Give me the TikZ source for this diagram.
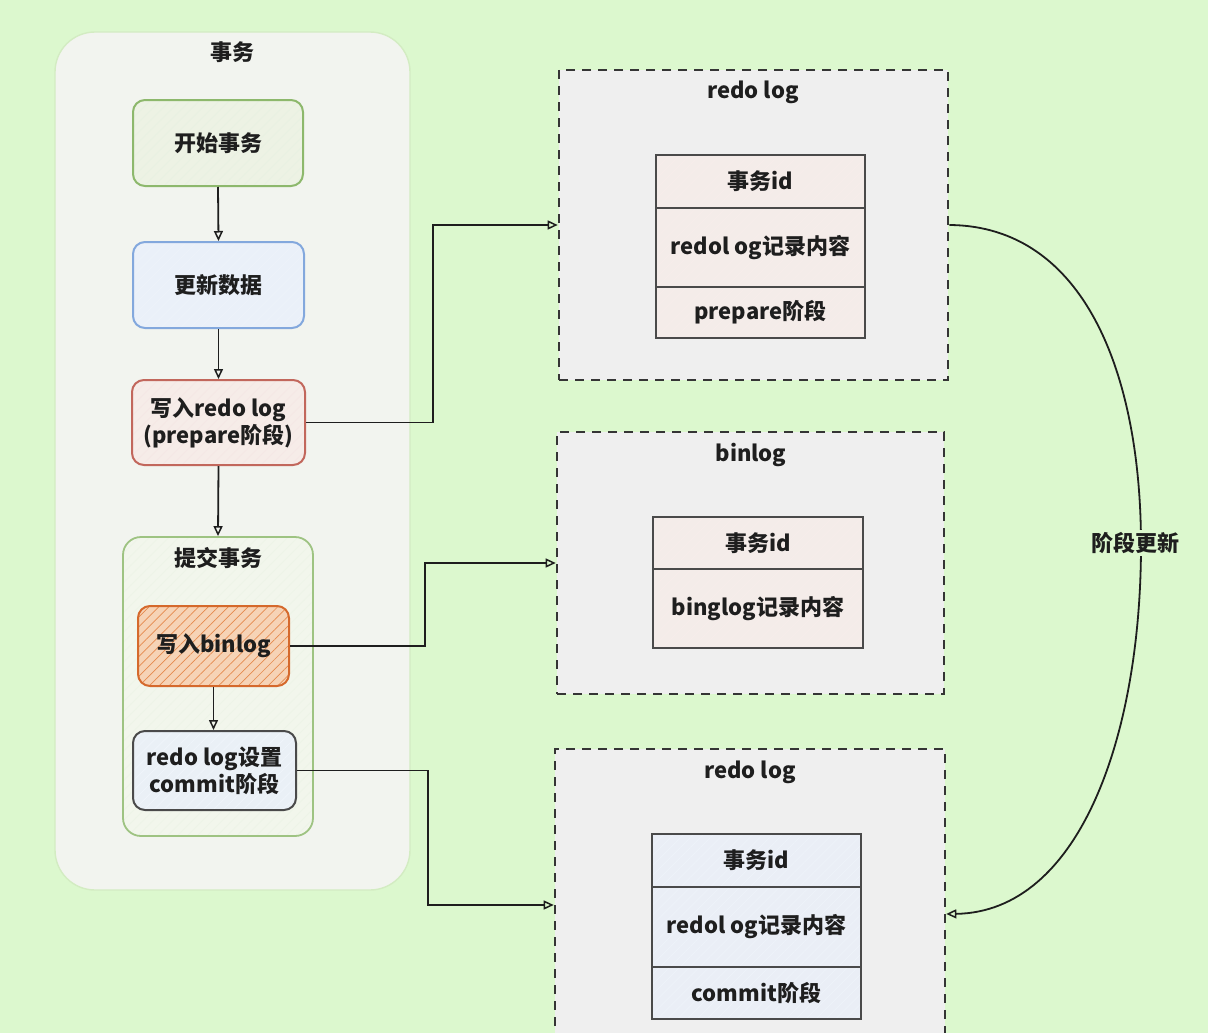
\documentclass[tikz,border=0pt]{standalone}
\usepackage{fontspec}
\setmainfont{Noto Sans CJK SC}
\usetikzlibrary{arrows.meta,patterns.meta}

\definecolor{bgGreen}{HTML}{DCF8CE}
\definecolor{panelFill}{HTML}{F2F4EF}
\definecolor{panelLine}{HTML}{D3ECC2}
\definecolor{greenLine}{HTML}{8DB86C}
\definecolor{greenFill}{HTML}{EDF2E4}
\definecolor{blueLine}{HTML}{83A8DD}
\definecolor{blueFill}{HTML}{EAF0F9}
\definecolor{redLine}{HTML}{C2675C}
\definecolor{redFill}{HTML}{F6ECE8}
\definecolor{orangeLine}{HTML}{D5692C}
\definecolor{orangeFill}{HTML}{F6D3B6}
\definecolor{orangeHatch}{HTML}{E58A4E}
\definecolor{greyLine}{HTML}{4A4A4A}
\definecolor{commitFill}{HTML}{EAF0F6}
\definecolor{logFill}{HTML}{EFEFEF}
\definecolor{rowRed}{HTML}{F4ECE9}
\definecolor{rowBlue}{HTML}{EAEEF6}
\definecolor{inkDark}{HTML}{1E1E1E}

\tikzset{
  txt/.style={font=\bfseries\fontsize{22}{27}\selectfont, text=inkDark, align=center},
  % solid fill first, then hatch lines, then the outline on top
  hfill/.style 2 args={preaction={fill=#1},
    preaction={pattern={Lines[angle=45,distance=7pt,line width=0.7pt]}, pattern color=#2}},
  stepbox/.style={txt, rounded corners=12pt, line width=2pt, inner sep=0pt},
  logpanel/.style={draw=inkDark!90, fill=logFill, line width=2.6pt, dash pattern=on 9pt off 7pt, inner sep=0pt},
  logrow/.style={txt, draw=greyLine, line width=2pt, inner sep=0pt, minimum width=209pt},
  edge/.style={draw=inkDark, line width=1.8pt, -{Triangle[open, length=10pt, width=9pt, line width=1.5pt]}},
}

\begin{document}
\begin{tikzpicture}[x=1pt, y=-1pt]
  \useasboundingbox (0,0) rectangle (1208,1033);
  \clip (0,0) rectangle (1208,1033);
  \fill[bgGreen] (0,0) rectangle (1208,1033);

  % ---- transaction panel ----
  \node[draw=panelLine, fill=panelFill, line width=1.4pt, rounded corners=40pt,
        minimum width=355pt, minimum height=858pt, inner sep=0pt] (tx) at (232.5,461) {};
  \node[txt] (txTitle) at (232,52) {事务};

  \node[stepbox, draw=greenLine, hfill={greenFill}{greenLine!20},
        minimum width=170pt, minimum height=86pt] (start) at (218,143) {开始事务};
  \node[stepbox, draw=blueLine, hfill={blueFill}{blueLine!14},
        minimum width=171pt, minimum height=86pt] (update) at (218.5,285) {更新数据};
  \node[stepbox, draw=redLine, hfill={redFill}{redLine!16},
        minimum width=173pt, minimum height=85pt] (wredo) at (218.5,422.5) {写入redo log\\(prepare阶段)};

  % commit group
  \node[draw=greenLine!85, hfill={greenFill!70}{greenLine!16}, line width=1.8pt,
        rounded corners=18pt, minimum width=190pt, minimum height=299pt, inner sep=0pt] (commitGrp) at (218,686.5) {};
  \node[txt] (commitTitle) at (218,558) {提交事务};
  \node[stepbox, draw=orangeLine, hfill={orangeFill}{orangeHatch},
        minimum width=151pt, minimum height=80pt] (wbin) at (213.5,646) {写入binlog};
  \node[stepbox, draw=greyLine, hfill={commitFill}{blueLine!12},
        minimum width=163pt, minimum height=79pt] (setcommit) at (214.5,770.5) {redo log设置\\commit阶段};

  \draw[edge] (start.south) -- (update.north);
  \draw[edge] (update.south) -- (wredo.north);
  \draw[edge] (wredo.south) -- (commitGrp.north);
  \draw[edge] (wbin.south) -- (wbin.south |- setcommit.north);

  % ---- redo log (prepare) ----
  \node[logpanel, minimum width=389pt, minimum height=310pt] (redoA) at (753.5,225) {};
  \node[txt] (redoAT) at (753,92) {redo log};
  \node[logrow, hfill={rowRed}{redLine!12}, minimum height=53pt] (redoA1) at (760.5,181.5) {事务id};
  \node[logrow, hfill={rowRed}{redLine!12}, minimum height=79pt] (redoA2) at (760.5,247.5) {redol og记录内容};
  \node[logrow, hfill={rowRed}{redLine!12}, minimum height=51pt] (redoA3) at (760.5,312.5) {prepare阶段};

  % ---- binlog ----
  \node[logpanel, minimum width=387pt, minimum height=262pt] (binA) at (750.5,563) {};
  \node[txt] (binAT) at (751,455) {binlog};
  \node[logrow, hfill={rowRed}{redLine!12}, minimum width=210pt, minimum height=52pt] (binA1) at (758,543) {事务id};
  \node[logrow, hfill={rowRed}{redLine!12}, minimum width=210pt, minimum height=79pt] (binA2) at (758,608.5) {binglog记录内容};

  % ---- redo log (commit) ----
  \node[logpanel, minimum width=390pt, minimum height=312pt] (redoB) at (750,905) {};
  \node[txt] (redoBT) at (750,772) {redo log};
  \node[logrow, hfill={rowBlue}{blueLine!14}, minimum height=53pt] (redoB1) at (756.5,860.5) {事务id};
  \node[logrow, hfill={rowBlue}{blueLine!14}, minimum height=80pt] (redoB2) at (756.5,927) {redol og记录内容};
  \node[logrow, hfill={rowBlue}{blueLine!14}, minimum height=52pt] (redoB3) at (756.5,993) {commit阶段};

  % ---- connectors to the log panels ----
  \draw[edge] (wredo.east) -- ++(127,0) |- (redoA.west);
  \draw[edge] (wbin.east) -- ++(135,0) |- (binA.west);
  \draw[edge] (setcommit.east) -- ++(131,0) |- (redoB.west);

  % ---- phase update curve ----
  \coordinate (curveMid) at (1141,545);
  \draw[edge] (redoA.east) .. controls (1085,226) and (1141,375) .. (curveMid)
              .. controls (1141,735) and (1080,912) .. ([yshift=-9pt]redoB.east);
  \node[txt, fill=bgGreen, inner sep=2pt] (phaseLbl) at (1135,543) {阶段更新};
\end{tikzpicture}
\end{document}
